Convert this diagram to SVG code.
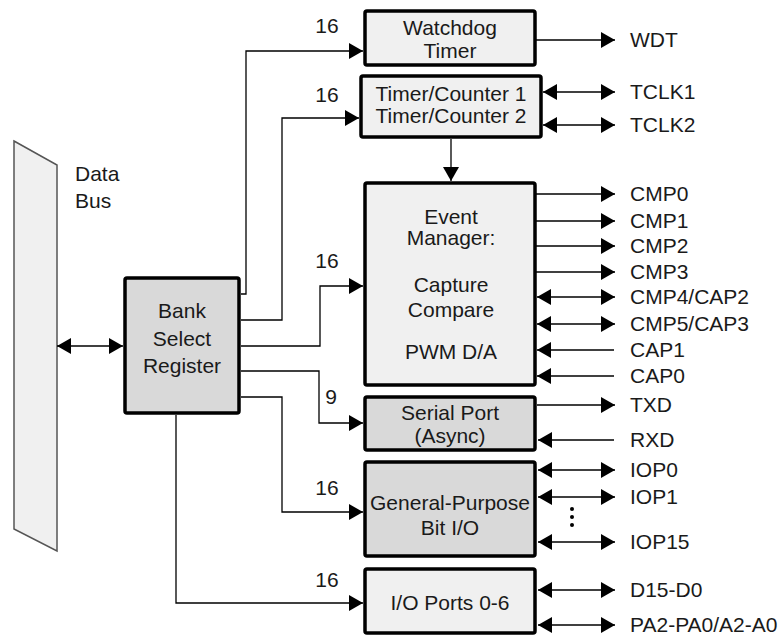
<svg xmlns="http://www.w3.org/2000/svg" width="782" height="637" viewBox="0 0 782 637">
<defs>
<marker id="arr" markerUnits="userSpaceOnUse" markerWidth="15" markerHeight="17" refX="14" refY="8" orient="auto-start-reverse" viewBox="0 0 15 17">
<path d="M0,0 L14,8 L0,16 Z" fill="#000"/>
</marker>
<style>
text{font-family:"Liberation Sans",Arial,sans-serif;font-size:21px;fill:#1a1a1a}
.c{text-anchor:middle}
.box{stroke:#000;stroke-width:3.5;stroke-linejoin:round}
.lt{fill:#f0f0f0}
.dk{fill:#d9d9d9}
.w{fill:none;stroke:#000;stroke-width:1.3}
.a{marker-end:url(#arr)}
.b{marker-start:url(#arr);marker-end:url(#arr)}
</style>
</defs>
<rect width="782" height="637" fill="#fff"/>

<g id="databus">
<polygon points="14,141 57,165 57,551 14,529" fill="#f0f0f0" stroke="#555" stroke-width="1.5"/>
<text x="75" y="181">Data</text>
<text x="75" y="208">Bus</text>
</g>

<g id="bsr">
<rect class="box dk" x="125" y="278" width="114" height="135" rx="2"/>
<text class="c" x="182" y="318">Bank</text>
<text class="c" x="182" y="346">Select</text>
<text class="c" x="182" y="373">Register</text>
</g>

<g id="watchdog">
<rect class="box lt" x="365" y="11" width="170" height="54" rx="2"/>
<text class="c" x="450" y="35">Watchdog</text>
<text class="c" x="450" y="58">Timer</text>
</g>

<g id="timers">
<rect class="box lt" x="361" y="76" width="180" height="61" rx="2"/>
<text class="c" x="451" y="101">Timer/Counter 1</text>
<text class="c" x="451" y="123">Timer/Counter 2</text>
</g>

<g id="eventmanager">
<rect class="box lt" x="365" y="183" width="170" height="202" rx="2"/>
<text class="c" x="451" y="224">Event</text>
<text class="c" x="451" y="245">Manager:</text>
<text class="c" x="451" y="292">Capture</text>
<text class="c" x="451" y="317">Compare</text>
<text class="c" x="451" y="359">PWM D/A</text>
</g>

<g id="serial">
<rect class="box dk" x="365" y="397" width="170" height="53" rx="2"/>
<text class="c" x="450" y="420">Serial Port</text>
<text class="c" x="450" y="443">(Async)</text>
</g>

<g id="gpio">
<rect class="box dk" x="365" y="462" width="170" height="94" rx="2"/>
<text class="c" x="450" y="510">General-Purpose</text>
<text class="c" x="450" y="535">Bit I/O</text>
</g>

<g id="ioports">
<rect class="box lt" x="365" y="569" width="170" height="64" rx="2"/>
<text class="c" x="450" y="610">I/O Ports 0-6</text>
</g>

<g id="connectors">
<line class="w b" x1="57" y1="346" x2="123" y2="346"/>
<polyline class="w a" points="241,294 246,294 246,51 363,51"/>
<polyline class="w a" points="241,320 282,320 282,118 359,118"/>
<polyline class="w a" points="241,346 320,346 320,286 363,286"/>
<polyline class="w a" points="241,371 319,371 319,423 363,423"/>
<polyline class="w a" points="241,397 282,397 282,512 363,512"/>
<polyline class="w a" points="176,415 176,603 363,603"/>
<line class="w a" x1="451" y1="139" x2="451" y2="181"/>

<line class="w a" x1="536" y1="40" x2="615" y2="40"/>
<line class="w b" x1="543" y1="92" x2="615" y2="92"/>
<line class="w b" x1="543" y1="125" x2="615" y2="125"/>

<line class="w a" x1="536" y1="194" x2="615" y2="194"/>
<line class="w a" x1="536" y1="221" x2="615" y2="221"/>
<line class="w a" x1="536" y1="246" x2="615" y2="246"/>
<line class="w a" x1="536" y1="272" x2="615" y2="272"/>
<line class="w b" x1="537" y1="297" x2="615" y2="297"/>
<line class="w b" x1="537" y1="324" x2="615" y2="324"/>
<line class="w a" x1="614" y1="350" x2="537" y2="350"/>
<line class="w a" x1="614" y1="376" x2="537" y2="376"/>

<line class="w a" x1="537" y1="405" x2="615" y2="405"/>
<line class="w a" x1="614" y1="440" x2="538" y2="440"/>
<line class="w b" x1="538" y1="470" x2="615" y2="470"/>
<line class="w b" x1="538" y1="497" x2="615" y2="497"/>
<line class="w b" x1="538" y1="542" x2="615" y2="542"/>
<line class="w b" x1="538" y1="590" x2="615" y2="590"/>
<line class="w b" x1="538" y1="625" x2="615" y2="625"/>
<circle cx="572" cy="509" r="2" fill="#000"/>
<circle cx="572" cy="517" r="2" fill="#000"/>
<circle cx="572" cy="525" r="2" fill="#000"/>
</g>

<g id="labels">
<text class="c" x="327" y="33">16</text>
<text class="c" x="327" y="102">16</text>
<text class="c" x="327" y="268">16</text>
<text class="c" x="331" y="404">9</text>
<text class="c" x="327" y="495">16</text>
<text class="c" x="327" y="587">16</text>

<text x="630" y="47">WDT</text>
<text x="630" y="99">TCLK1</text>
<text x="630" y="132">TCLK2</text>
<text x="630" y="201">CMP0</text>
<text x="630" y="228">CMP1</text>
<text x="630" y="253">CMP2</text>
<text x="630" y="279">CMP3</text>
<text x="630" y="304">CMP4/CAP2</text>
<text x="630" y="331">CMP5/CAP3</text>
<text x="630" y="357">CAP1</text>
<text x="630" y="383">CAP0</text>
<text x="630" y="412">TXD</text>
<text x="630" y="447">RXD</text>
<text x="630" y="477">IOP0</text>
<text x="630" y="504">IOP1</text>
<text x="630" y="549">IOP15</text>
<text x="630" y="597">D15-D0</text>
<text x="630" y="632">PA2-PA0/A2-A0</text>
</g>
</svg>
